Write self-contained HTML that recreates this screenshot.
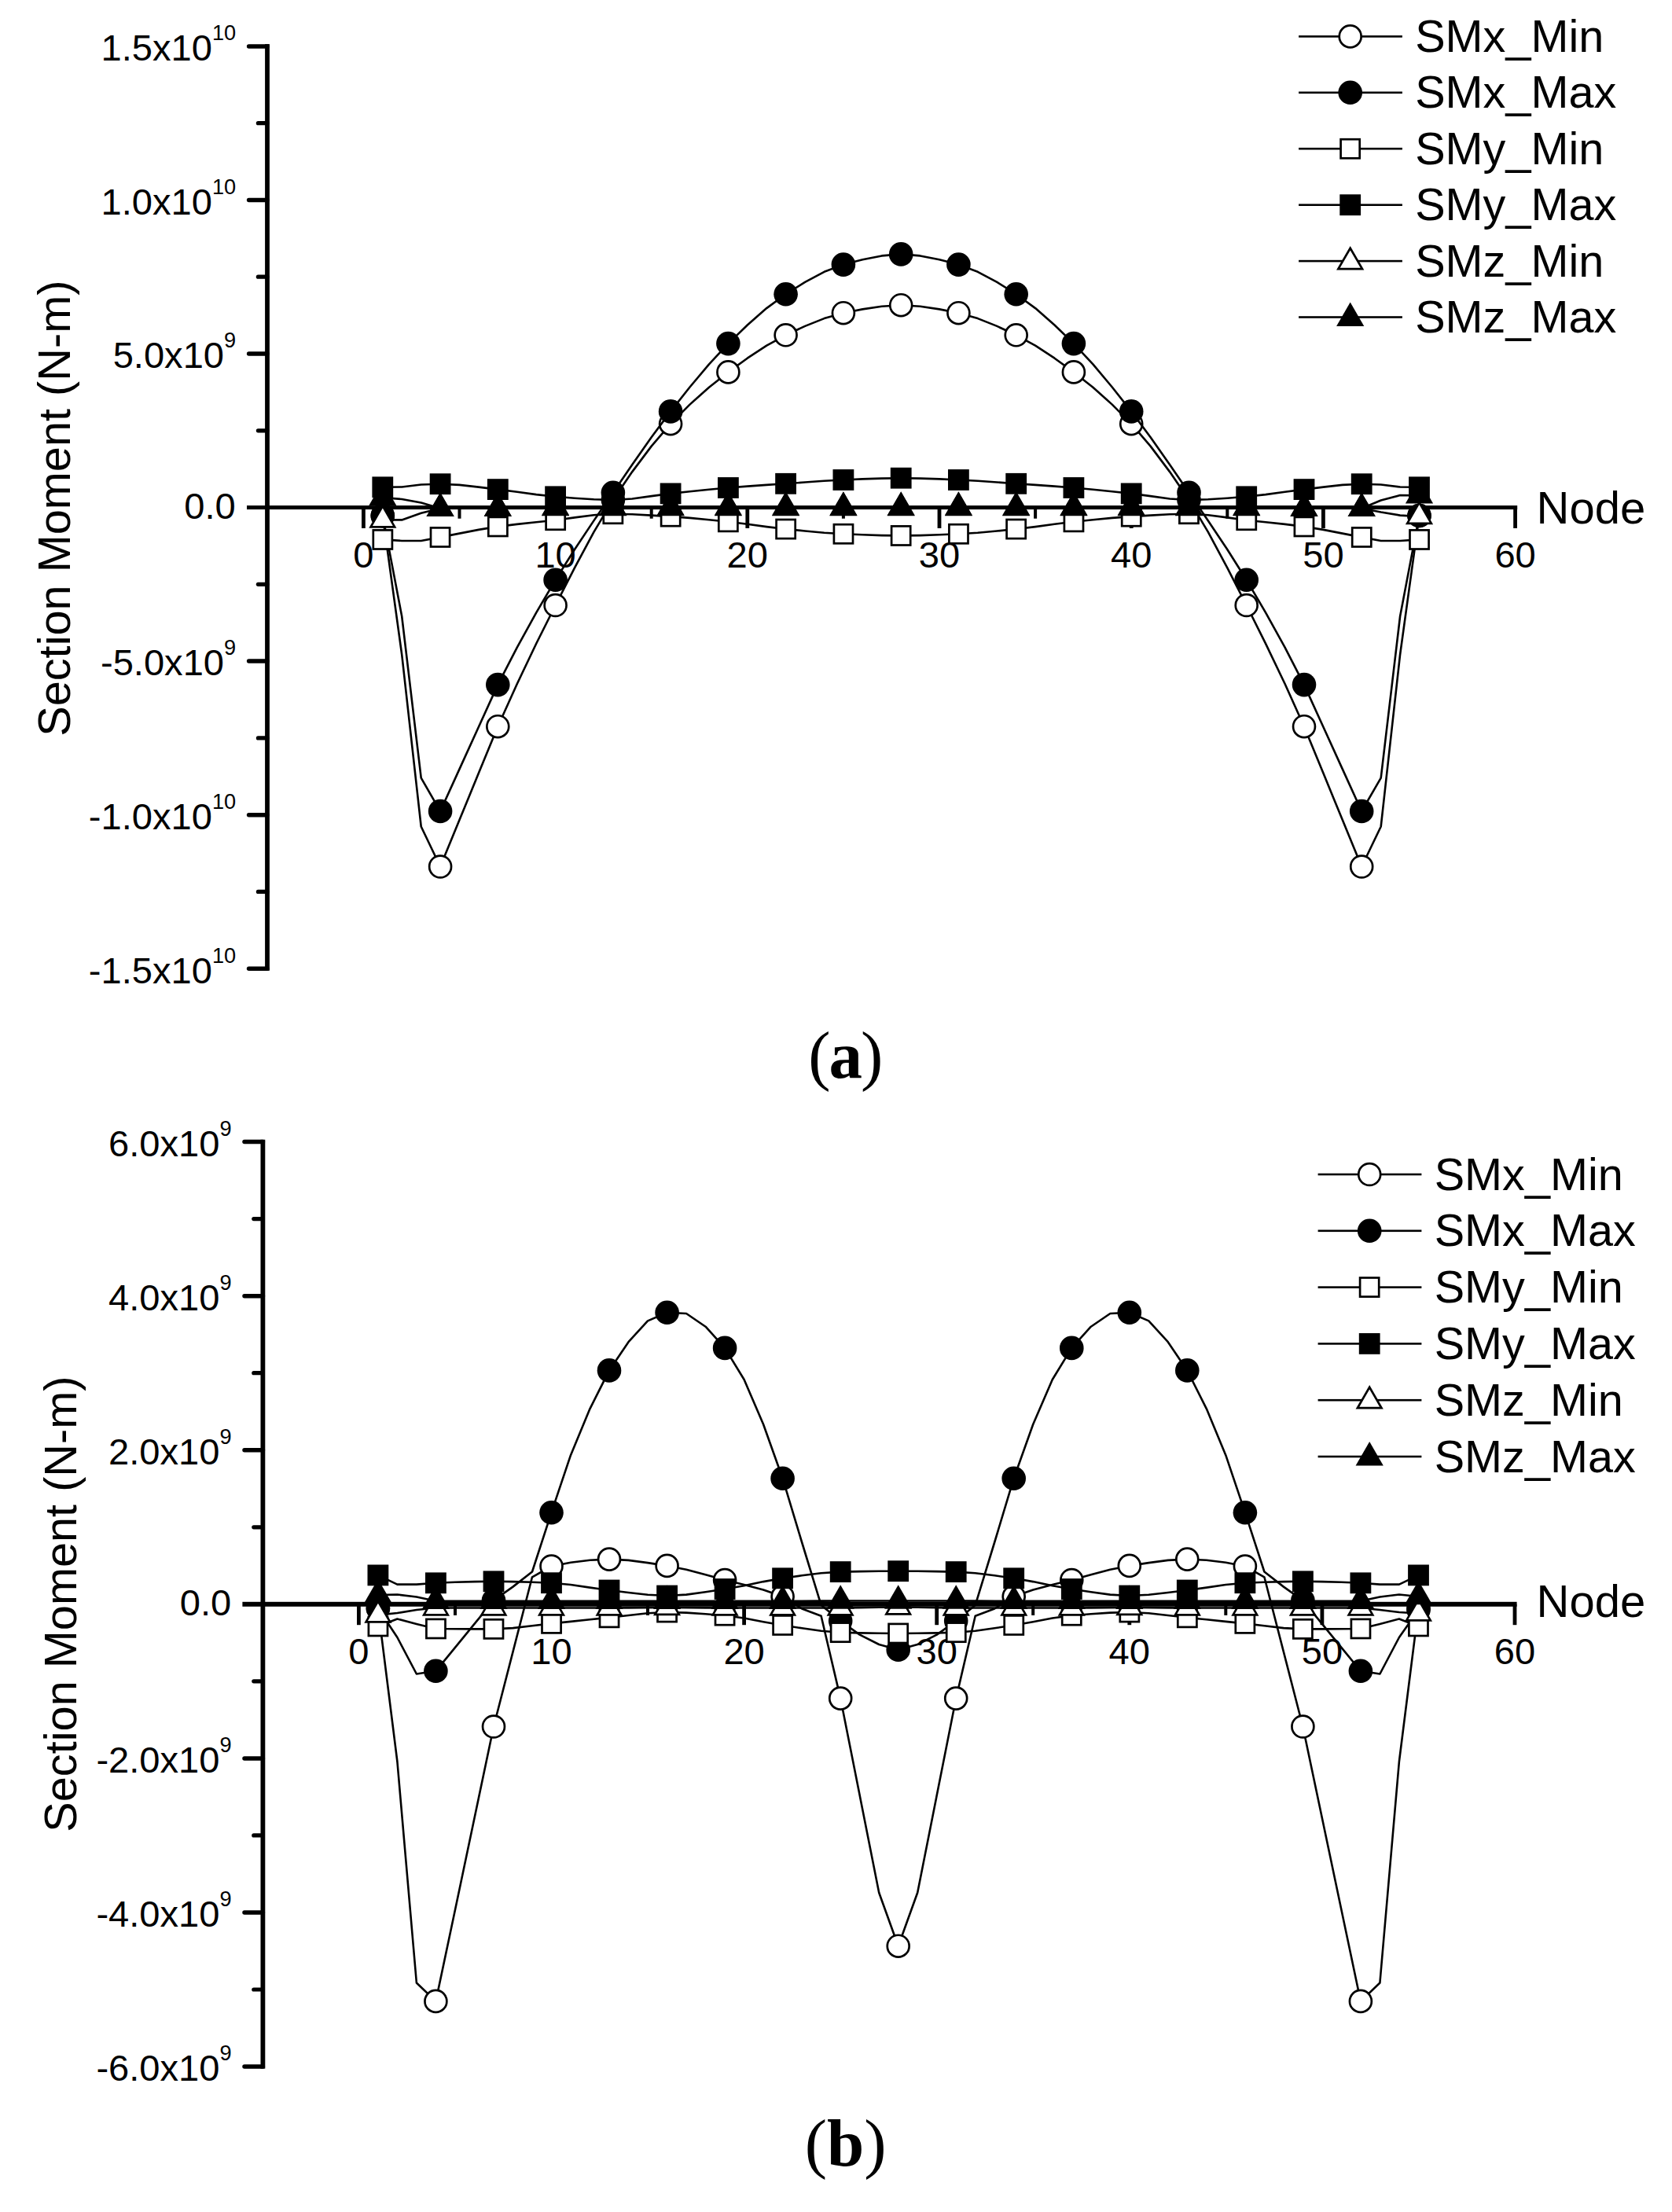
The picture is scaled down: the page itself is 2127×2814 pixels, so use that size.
<!DOCTYPE html>
<html lang="en"><head><meta charset="utf-8"><title>Section Moment</title>
<style>
html,body{margin:0;padding:0;background:#fff;}
body{width:2127px;height:2814px;overflow:hidden;}
svg{display:block;}
</style></head><body>
<svg width="2127" height="2814" viewBox="0 0 2127 2814" font-family='&quot;Liberation Sans&quot;, sans-serif' fill="#000">
<g id="chart-a"><rect x="337.1" y="56.1" width="5.8" height="1178.7"/>
<line x1="316.6" y1="58.9" x2="340" y2="58.9" stroke="#000" stroke-width="5.5" stroke-linecap="round"/>
<line x1="328.4" y1="156.7" x2="340" y2="156.7" stroke="#000" stroke-width="5.2" stroke-linecap="round"/>
<line x1="316.6" y1="254.5" x2="340" y2="254.5" stroke="#000" stroke-width="5.5" stroke-linecap="round"/>
<line x1="328.4" y1="352.2" x2="340" y2="352.2" stroke="#000" stroke-width="5.2" stroke-linecap="round"/>
<line x1="316.6" y1="450" x2="340" y2="450" stroke="#000" stroke-width="5.5" stroke-linecap="round"/>
<line x1="328.4" y1="547.8" x2="340" y2="547.8" stroke="#000" stroke-width="5.2" stroke-linecap="round"/>
<line x1="328.4" y1="743.3" x2="340" y2="743.3" stroke="#000" stroke-width="5.2" stroke-linecap="round"/>
<line x1="316.6" y1="841.1" x2="340" y2="841.1" stroke="#000" stroke-width="5.5" stroke-linecap="round"/>
<line x1="328.4" y1="938.9" x2="340" y2="938.9" stroke="#000" stroke-width="5.2" stroke-linecap="round"/>
<line x1="316.6" y1="1036.7" x2="340" y2="1036.7" stroke="#000" stroke-width="5.5" stroke-linecap="round"/>
<line x1="328.4" y1="1134.4" x2="340" y2="1134.4" stroke="#000" stroke-width="5.2" stroke-linecap="round"/>
<line x1="316.6" y1="1232.2" x2="340" y2="1232.2" stroke="#000" stroke-width="5.5" stroke-linecap="round"/>
<rect x="314" y="643.1" width="1616.2" height="5"/>
<rect x="460" y="645.6" width="4.8" height="26.4"/>
<rect x="582.5" y="645.6" width="4" height="14.1"/>
<rect x="704.2" y="645.6" width="4.8" height="26.4"/>
<rect x="826.7" y="645.6" width="4" height="14.1"/>
<rect x="948.4" y="645.6" width="4.8" height="26.4"/>
<rect x="1070.9" y="645.6" width="4" height="14.1"/>
<rect x="1192.6" y="645.6" width="4.8" height="26.4"/>
<rect x="1315.1" y="645.6" width="4" height="14.1"/>
<rect x="1436.8" y="645.6" width="4.8" height="26.4"/>
<rect x="1559.3" y="645.6" width="4" height="14.1"/>
<rect x="1681" y="645.6" width="4.8" height="26.4"/>
<rect x="1803.5" y="645.6" width="4" height="14.1"/>
<rect x="1925.2" y="645.6" width="4.8" height="26.4"/>
<text x="462.4" y="722.2" font-size="47.1" text-anchor="middle">0</text>
<text x="706.6" y="722.2" font-size="47.1" text-anchor="middle">10</text>
<text x="950.8" y="722.2" font-size="47.1" text-anchor="middle">20</text>
<text x="1195" y="722.2" font-size="47.1" text-anchor="middle">30</text>
<text x="1439.2" y="722.2" font-size="47.1" text-anchor="middle">40</text>
<text x="1683.4" y="722.2" font-size="47.1" text-anchor="middle">50</text>
<text x="1927.6" y="722.2" font-size="47.1" text-anchor="middle">60</text>
<text x="300.2" y="77.2" font-size="47.1" text-anchor="end">1.5x10<tspan font-size="27.2" dy="-26">10</tspan></text>
<text x="300.2" y="272.8" font-size="47.1" text-anchor="end">1.0x10<tspan font-size="27.2" dy="-26">10</tspan></text>
<text x="300.2" y="468.3" font-size="47.1" text-anchor="end">5.0x10<tspan font-size="27.2" dy="-26">9</tspan></text>
<text x="299.8" y="659.8" font-size="47.1" text-anchor="end">0.0</text>
<text x="300.2" y="859.4" font-size="47.1" text-anchor="end">-5.0x10<tspan font-size="27.2" dy="-26">9</tspan></text>
<text x="300.2" y="1055" font-size="47.1" text-anchor="end">-1.0x10<tspan font-size="27.2" dy="-26">10</tspan></text>
<text x="300.2" y="1250.5" font-size="47.1" text-anchor="end">-1.5x10<tspan font-size="27.2" dy="-26">10</tspan></text>
<text x="1954.5" y="666.3" font-size="58">Node</text>
<text transform="translate(89.4,646.7) rotate(-90)" font-size="57.7" text-anchor="middle">Section Moment (N-m)</text>
<polyline points="486.8,656 511.2,832.7 535.7,1051.5 560.1,1102.5 584.5,1043.1 608.9,983.6 633.3,924.2 657.8,870 682.2,818.8 706.6,770 731,722.3 755.4,676.8 779.9,636 804.3,600.1 828.7,567.6 853.1,539.2 877.5,514.6 902,492.8 926.4,473.4 950.8,455.7 975.2,439.7 999.6,426.3 1024.1,414.9 1048.5,405.1 1072.9,398.2 1097.3,393.4 1121.7,389.7 1146.2,388.2 1170.6,389.7 1195,393.4 1219.4,398.2 1243.8,405.1 1268.3,414.9 1292.7,426.3 1317.1,439.7 1341.5,455.7 1365.9,473.4 1390.4,492.8 1414.8,514.6 1439.2,539.2 1463.6,567.6 1488,600.1 1512.5,636 1536.9,676.8 1561.3,722.3 1585.7,770 1610.1,818.8 1634.6,870 1659,924.2 1683.4,983.6 1707.8,1043.1 1732.2,1102.5 1756.7,1051.5 1781.1,832.7 1805.5,656" fill="none" stroke="#000" stroke-width="2.6" stroke-linejoin="round"/>
<circle cx="486.8" cy="656" r="13.95" fill="#fff" stroke="#000" stroke-width="2.7"/>
<circle cx="560.1" cy="1102.5" r="13.95" fill="#fff" stroke="#000" stroke-width="2.7"/>
<circle cx="633.3" cy="924.2" r="13.95" fill="#fff" stroke="#000" stroke-width="2.7"/>
<circle cx="706.6" cy="770" r="13.95" fill="#fff" stroke="#000" stroke-width="2.7"/>
<circle cx="779.9" cy="636" r="13.95" fill="#fff" stroke="#000" stroke-width="2.7"/>
<circle cx="853.1" cy="539.2" r="13.95" fill="#fff" stroke="#000" stroke-width="2.7"/>
<circle cx="926.4" cy="473.4" r="13.95" fill="#fff" stroke="#000" stroke-width="2.7"/>
<circle cx="999.6" cy="426.3" r="13.95" fill="#fff" stroke="#000" stroke-width="2.7"/>
<circle cx="1072.9" cy="398.2" r="13.95" fill="#fff" stroke="#000" stroke-width="2.7"/>
<circle cx="1146.2" cy="388.2" r="13.95" fill="#fff" stroke="#000" stroke-width="2.7"/>
<circle cx="1219.4" cy="398.2" r="13.95" fill="#fff" stroke="#000" stroke-width="2.7"/>
<circle cx="1292.7" cy="426.3" r="13.95" fill="#fff" stroke="#000" stroke-width="2.7"/>
<circle cx="1365.9" cy="473.4" r="13.95" fill="#fff" stroke="#000" stroke-width="2.7"/>
<circle cx="1439.2" cy="539.2" r="13.95" fill="#fff" stroke="#000" stroke-width="2.7"/>
<circle cx="1512.5" cy="636" r="13.95" fill="#fff" stroke="#000" stroke-width="2.7"/>
<circle cx="1585.7" cy="770" r="13.95" fill="#fff" stroke="#000" stroke-width="2.7"/>
<circle cx="1659" cy="924.2" r="13.95" fill="#fff" stroke="#000" stroke-width="2.7"/>
<circle cx="1732.2" cy="1102.5" r="13.95" fill="#fff" stroke="#000" stroke-width="2.7"/>
<circle cx="1805.5" cy="656" r="13.95" fill="#fff" stroke="#000" stroke-width="2.7"/>
<polyline points="486.8,656 511.2,784 535.7,989.7 560.1,1032 584.5,978.4 608.9,924.7 633.3,871.1 657.8,823.6 682.2,779.3 706.6,737.8 731,699 755.4,662.4 779.9,626.7 804.3,591 828.7,556.2 853.1,523.4 877.5,492.5 902,463.3 926.4,437.1 950.8,413.5 975.2,392.1 999.6,374.2 1024.1,358.9 1048.5,345.8 1072.9,336.6 1097.3,330.3 1121.7,325.4 1146.2,323.4 1170.6,325.4 1195,330.3 1219.4,336.6 1243.8,345.8 1268.3,358.9 1292.7,374.2 1317.1,392.1 1341.5,413.5 1365.9,437.1 1390.4,463.3 1414.8,492.5 1439.2,523.4 1463.6,556.2 1488,591 1512.5,626.7 1536.9,662.4 1561.3,699 1585.7,737.8 1610.1,779.3 1634.6,823.6 1659,871.1 1683.4,924.7 1707.8,978.4 1732.2,1032 1756.7,989.7 1781.1,784 1805.5,656" fill="none" stroke="#000" stroke-width="2.6" stroke-linejoin="round"/>
<circle cx="486.8" cy="656" r="15.3"/>
<circle cx="560.1" cy="1032" r="15.3"/>
<circle cx="633.3" cy="871.1" r="15.3"/>
<circle cx="706.6" cy="737.8" r="15.3"/>
<circle cx="779.9" cy="626.7" r="15.3"/>
<circle cx="853.1" cy="523.4" r="15.3"/>
<circle cx="926.4" cy="437.1" r="15.3"/>
<circle cx="999.6" cy="374.2" r="15.3"/>
<circle cx="1072.9" cy="336.6" r="15.3"/>
<circle cx="1146.2" cy="323.4" r="15.3"/>
<circle cx="1219.4" cy="336.6" r="15.3"/>
<circle cx="1292.7" cy="374.2" r="15.3"/>
<circle cx="1365.9" cy="437.1" r="15.3"/>
<circle cx="1439.2" cy="523.4" r="15.3"/>
<circle cx="1512.5" cy="626.7" r="15.3"/>
<circle cx="1585.7" cy="737.8" r="15.3"/>
<circle cx="1659" cy="871.1" r="15.3"/>
<circle cx="1732.2" cy="1032" r="15.3"/>
<circle cx="1805.5" cy="656" r="15.3"/>
<polyline points="486.8,686.4 511.2,688 535.7,688 560.1,683.4 584.5,678.6 608.9,673.9 633.3,669.9 657.8,666.9 682.2,664.3 706.6,661.7 731,658.4 755.4,655.2 779.9,653.7 804.3,654.2 828.7,655.6 853.1,657.1 877.5,658.9 902,661.2 926.4,663.8 950.8,666.8 975.2,670.1 999.6,673 1024.1,675.5 1048.5,677.8 1072.9,679.3 1097.3,680.3 1121.7,681.1 1146.2,681.4 1170.6,681.1 1195,680.3 1219.4,679.3 1243.8,677.8 1268.3,675.5 1292.7,673 1317.1,670.1 1341.5,666.8 1365.9,663.8 1390.4,661.2 1414.8,658.9 1439.2,657.1 1463.6,655.6 1488,654.2 1512.5,653.7 1536.9,655.2 1561.3,658.4 1585.7,661.7 1610.1,664.3 1634.6,666.9 1659,669.9 1683.4,673.9 1707.8,678.6 1732.2,683.4 1756.7,688 1781.1,688 1805.5,686.4" fill="none" stroke="#000" stroke-width="2.6" stroke-linejoin="round"/>
<rect x="474.8" y="674.4" width="24.1" height="24.1" fill="#fff" stroke="#000" stroke-width="2.7"/>
<rect x="548" y="671.4" width="24.1" height="24.1" fill="#fff" stroke="#000" stroke-width="2.7"/>
<rect x="621.3" y="657.9" width="24.1" height="24.1" fill="#fff" stroke="#000" stroke-width="2.7"/>
<rect x="694.6" y="649.7" width="24.1" height="24.1" fill="#fff" stroke="#000" stroke-width="2.7"/>
<rect x="767.8" y="641.7" width="24.1" height="24.1" fill="#fff" stroke="#000" stroke-width="2.7"/>
<rect x="841.1" y="645.1" width="24.1" height="24.1" fill="#fff" stroke="#000" stroke-width="2.7"/>
<rect x="914.3" y="651.8" width="24.1" height="24.1" fill="#fff" stroke="#000" stroke-width="2.7"/>
<rect x="987.6" y="661" width="24.1" height="24.1" fill="#fff" stroke="#000" stroke-width="2.7"/>
<rect x="1060.9" y="667.2" width="24.1" height="24.1" fill="#fff" stroke="#000" stroke-width="2.7"/>
<rect x="1134.1" y="669.4" width="24.1" height="24.1" fill="#fff" stroke="#000" stroke-width="2.7"/>
<rect x="1207.4" y="667.2" width="24.1" height="24.1" fill="#fff" stroke="#000" stroke-width="2.7"/>
<rect x="1280.6" y="661" width="24.1" height="24.1" fill="#fff" stroke="#000" stroke-width="2.7"/>
<rect x="1353.9" y="651.8" width="24.1" height="24.1" fill="#fff" stroke="#000" stroke-width="2.7"/>
<rect x="1427.2" y="645.1" width="24.1" height="24.1" fill="#fff" stroke="#000" stroke-width="2.7"/>
<rect x="1500.4" y="641.7" width="24.1" height="24.1" fill="#fff" stroke="#000" stroke-width="2.7"/>
<rect x="1573.7" y="649.7" width="24.1" height="24.1" fill="#fff" stroke="#000" stroke-width="2.7"/>
<rect x="1646.9" y="657.9" width="24.1" height="24.1" fill="#fff" stroke="#000" stroke-width="2.7"/>
<rect x="1720.2" y="671.4" width="24.1" height="24.1" fill="#fff" stroke="#000" stroke-width="2.7"/>
<rect x="1793.5" y="674.4" width="24.1" height="24.1" fill="#fff" stroke="#000" stroke-width="2.7"/>
<polyline points="486.8,619.8 511.2,619.5 535.7,616.5 560.1,615.7 584.5,616.9 608.9,619.6 633.3,622.6 657.8,625.7 682.2,629.1 706.6,631.8 731,633.7 755.4,635.3 779.9,636 804.3,634.5 828.7,631.1 853.1,627.9 877.5,625.3 902,622.8 926.4,620.5 950.8,618.6 975.2,616.9 999.6,615.3 1024.1,613.5 1048.5,611.8 1072.9,610.5 1097.3,609.4 1121.7,608.6 1146.2,608.2 1170.6,608.6 1195,609.4 1219.4,610.5 1243.8,611.8 1268.3,613.5 1292.7,615.3 1317.1,616.9 1341.5,618.6 1365.9,620.5 1390.4,622.8 1414.8,625.3 1439.2,627.9 1463.6,631.1 1488,634.5 1512.5,636 1536.9,635.3 1561.3,633.7 1585.7,631.8 1610.1,629.1 1634.6,625.7 1659,622.6 1683.4,619.6 1707.8,616.9 1732.2,615.7 1756.7,616.5 1781.1,619.5 1805.5,619.8" fill="none" stroke="#000" stroke-width="2.6" stroke-linejoin="round"/>
<rect x="473.4" y="606.4" width="26.8" height="26.8"/>
<rect x="546.7" y="602.3" width="26.8" height="26.8"/>
<rect x="619.9" y="609.2" width="26.8" height="26.8"/>
<rect x="693.2" y="618.4" width="26.8" height="26.8"/>
<rect x="766.5" y="622.6" width="26.8" height="26.8"/>
<rect x="839.7" y="614.5" width="26.8" height="26.8"/>
<rect x="913" y="607.1" width="26.8" height="26.8"/>
<rect x="986.2" y="601.9" width="26.8" height="26.8"/>
<rect x="1059.5" y="597.1" width="26.8" height="26.8"/>
<rect x="1132.8" y="594.8" width="26.8" height="26.8"/>
<rect x="1206" y="597.1" width="26.8" height="26.8"/>
<rect x="1279.3" y="601.9" width="26.8" height="26.8"/>
<rect x="1352.5" y="607.1" width="26.8" height="26.8"/>
<rect x="1425.8" y="614.5" width="26.8" height="26.8"/>
<rect x="1499.1" y="622.6" width="26.8" height="26.8"/>
<rect x="1572.3" y="618.4" width="26.8" height="26.8"/>
<rect x="1645.6" y="609.2" width="26.8" height="26.8"/>
<rect x="1718.8" y="602.3" width="26.8" height="26.8"/>
<rect x="1792.1" y="606.4" width="26.8" height="26.8"/>
<polyline points="486.8,661.5 511.2,661.4 535.7,652.8 560.1,646.8 584.5,646.6 608.9,646.6 633.3,646.5 657.8,646.3 682.2,646.1 706.6,646 731,646 755.4,646 779.9,646 804.3,646 828.7,646 853.1,646 877.5,646 902,646 926.4,646 950.8,646 975.2,646 999.6,646 1024.1,646 1048.5,646 1072.9,646 1097.3,646 1121.7,646 1146.2,646 1170.6,646 1195,646 1219.4,646 1243.8,646 1268.3,646 1292.7,646 1317.1,646 1341.5,646 1365.9,646 1390.4,646 1414.8,646 1439.2,646 1463.6,646 1488,646 1512.5,646 1536.9,646 1561.3,646 1585.7,646 1610.1,646.1 1634.6,646.3 1659,646.5 1683.4,646.6 1707.8,646.6 1732.2,646.8 1756.7,651.5 1781.1,655.6 1805.5,657" fill="none" stroke="#000" stroke-width="2.6" stroke-linejoin="round"/>
<polygon points="486.8,643.9 471.6,670.3 502.1,670.3" fill="#fff" stroke="#000" stroke-width="2.7" stroke-linejoin="miter"/>
<polygon points="560.1,629.2 544.8,655.6 575.3,655.6" fill="#fff" stroke="#000" stroke-width="2.7" stroke-linejoin="miter"/>
<polygon points="633.3,628.9 618.1,655.3 648.6,655.3" fill="#fff" stroke="#000" stroke-width="2.7" stroke-linejoin="miter"/>
<polygon points="706.6,628.4 691.3,654.8 721.9,654.8" fill="#fff" stroke="#000" stroke-width="2.7" stroke-linejoin="miter"/>
<polygon points="779.9,628.4 764.6,654.8 795.1,654.8" fill="#fff" stroke="#000" stroke-width="2.7" stroke-linejoin="miter"/>
<polygon points="853.1,628.4 837.9,654.8 868.4,654.8" fill="#fff" stroke="#000" stroke-width="2.7" stroke-linejoin="miter"/>
<polygon points="926.4,628.4 911.1,654.8 941.6,654.8" fill="#fff" stroke="#000" stroke-width="2.7" stroke-linejoin="miter"/>
<polygon points="999.6,628.4 984.4,654.8 1014.9,654.8" fill="#fff" stroke="#000" stroke-width="2.7" stroke-linejoin="miter"/>
<polygon points="1072.9,628.4 1057.6,654.8 1088.2,654.8" fill="#fff" stroke="#000" stroke-width="2.7" stroke-linejoin="miter"/>
<polygon points="1146.2,628.4 1130.9,654.8 1161.4,654.8" fill="#fff" stroke="#000" stroke-width="2.7" stroke-linejoin="miter"/>
<polygon points="1219.4,628.4 1204.2,654.8 1234.7,654.8" fill="#fff" stroke="#000" stroke-width="2.7" stroke-linejoin="miter"/>
<polygon points="1292.7,628.4 1277.4,654.8 1307.9,654.8" fill="#fff" stroke="#000" stroke-width="2.7" stroke-linejoin="miter"/>
<polygon points="1365.9,628.4 1350.7,654.8 1381.2,654.8" fill="#fff" stroke="#000" stroke-width="2.7" stroke-linejoin="miter"/>
<polygon points="1439.2,628.4 1423.9,654.8 1454.5,654.8" fill="#fff" stroke="#000" stroke-width="2.7" stroke-linejoin="miter"/>
<polygon points="1512.5,628.4 1497.2,654.8 1527.7,654.8" fill="#fff" stroke="#000" stroke-width="2.7" stroke-linejoin="miter"/>
<polygon points="1585.7,628.4 1570.5,654.8 1601,654.8" fill="#fff" stroke="#000" stroke-width="2.7" stroke-linejoin="miter"/>
<polygon points="1659,628.9 1643.7,655.3 1674.2,655.3" fill="#fff" stroke="#000" stroke-width="2.7" stroke-linejoin="miter"/>
<polygon points="1732.2,629.2 1717,655.6 1747.5,655.6" fill="#fff" stroke="#000" stroke-width="2.7" stroke-linejoin="miter"/>
<polygon points="1805.5,639.4 1790.2,665.8 1820.8,665.8" fill="#fff" stroke="#000" stroke-width="2.7" stroke-linejoin="miter"/>
<polyline points="486.8,633.1 511.2,635 535.7,639.5 560.1,646.8 584.5,646.8 608.9,646.8 633.3,646.8 657.8,646.5 682.2,645.8 706.6,645.5 731,645.5 755.4,645.5 779.9,645.5 804.3,645.5 828.7,645.5 853.1,645.5 877.5,645.5 902,645.5 926.4,645.5 950.8,645.5 975.2,645.5 999.6,645.5 1024.1,645.5 1048.5,645.5 1072.9,645.5 1097.3,645.5 1121.7,645.5 1146.2,645.5 1170.6,645.5 1195,645.5 1219.4,645.5 1243.8,645.5 1268.3,645.5 1292.7,645.5 1317.1,645.5 1341.5,645.5 1365.9,645.5 1390.4,645.5 1414.8,645.5 1439.2,645.5 1463.6,645.5 1488,645.5 1512.5,645.5 1536.9,645.5 1561.3,645.5 1585.7,645.5 1610.1,645.8 1634.6,646.5 1659,646.8 1683.4,646.8 1707.8,646.8 1732.2,646.8 1756.7,636.5 1781.1,630 1805.5,630.3" fill="none" stroke="#000" stroke-width="2.6" stroke-linejoin="round"/>
<polygon points="486.8,612.8 469.2,643.3 504.4,643.3"/>
<polygon points="560.1,626.5 542.5,657 577.7,657"/>
<polygon points="633.3,626.5 615.7,657 650.9,657"/>
<polygon points="706.6,625.2 689,655.7 724.2,655.7"/>
<polygon points="779.9,625.2 762.3,655.7 797.5,655.7"/>
<polygon points="853.1,625.2 835.5,655.7 870.7,655.7"/>
<polygon points="926.4,625.2 908.8,655.7 944,655.7"/>
<polygon points="999.6,625.2 982,655.7 1017.2,655.7"/>
<polygon points="1072.9,625.2 1055.3,655.7 1090.5,655.7"/>
<polygon points="1146.2,625.2 1128.6,655.7 1163.8,655.7"/>
<polygon points="1219.4,625.2 1201.8,655.7 1237,655.7"/>
<polygon points="1292.7,625.2 1275.1,655.7 1310.3,655.7"/>
<polygon points="1365.9,625.2 1348.3,655.7 1383.5,655.7"/>
<polygon points="1439.2,625.2 1421.6,655.7 1456.8,655.7"/>
<polygon points="1512.5,625.2 1494.9,655.7 1530.1,655.7"/>
<polygon points="1585.7,625.2 1568.1,655.7 1603.3,655.7"/>
<polygon points="1659,626.5 1641.4,657 1676.6,657"/>
<polygon points="1732.2,626.5 1714.6,657 1749.8,657"/>
<polygon points="1805.5,610 1787.9,640.5 1823.1,640.5"/>
<rect x="1652.1" y="45.1" width="131.8" height="2.6"/>
<circle cx="1717.7" cy="46.4" r="13.95" fill="#fff" stroke="#000" stroke-width="2.7"/>
<text x="1800.2" y="66" font-size="57.6">SMx_Min</text>
<rect x="1652.1" y="116.5" width="131.8" height="2.6"/>
<circle cx="1717.7" cy="117.8" r="15.3"/>
<text x="1800.2" y="137.4" font-size="57.6">SMx_Max</text>
<rect x="1652.1" y="187.9" width="131.8" height="2.6"/>
<rect x="1705.6" y="177.2" width="24.1" height="24.1" fill="#fff" stroke="#000" stroke-width="2.7"/>
<text x="1800.2" y="208.8" font-size="57.6">SMy_Min</text>
<rect x="1652.1" y="259.4" width="131.8" height="2.6"/>
<rect x="1704.3" y="247.3" width="26.8" height="26.8"/>
<text x="1800.2" y="280.3" font-size="57.6">SMy_Max</text>
<rect x="1652.1" y="330.8" width="131.8" height="2.6"/>
<polygon points="1717.7,315.7 1702.4,342.1 1733,342.1" fill="#fff" stroke="#000" stroke-width="2.7" stroke-linejoin="miter"/>
<text x="1800.2" y="351.7" font-size="57.6">SMz_Min</text>
<rect x="1652.1" y="402.2" width="131.8" height="2.6"/>
<polygon points="1717.7,384.4 1700.1,414.9 1735.3,414.9"/>
<text x="1800.2" y="423.1" font-size="57.6">SMz_Max</text>
<text x="1074.8" y="1371" font-size="85" letter-spacing="-2" text-anchor="middle" font-family='&quot;Liberation Serif&quot;, serif'>(<tspan font-weight="bold">a</tspan>)</text></g>
<g id="chart-b"><rect x="331.5" y="1449.8" width="5.8" height="1181.8"/>
<line x1="311" y1="1452.6" x2="334.4" y2="1452.6" stroke="#000" stroke-width="5.5" stroke-linecap="round"/>
<line x1="322.8" y1="1550.6" x2="334.4" y2="1550.6" stroke="#000" stroke-width="5.2" stroke-linecap="round"/>
<line x1="311" y1="1648.7" x2="334.4" y2="1648.7" stroke="#000" stroke-width="5.5" stroke-linecap="round"/>
<line x1="322.8" y1="1746.7" x2="334.4" y2="1746.7" stroke="#000" stroke-width="5.2" stroke-linecap="round"/>
<line x1="311" y1="1844.7" x2="334.4" y2="1844.7" stroke="#000" stroke-width="5.5" stroke-linecap="round"/>
<line x1="322.8" y1="1942.8" x2="334.4" y2="1942.8" stroke="#000" stroke-width="5.2" stroke-linecap="round"/>
<line x1="322.8" y1="2138.8" x2="334.4" y2="2138.8" stroke="#000" stroke-width="5.2" stroke-linecap="round"/>
<line x1="311" y1="2236.9" x2="334.4" y2="2236.9" stroke="#000" stroke-width="5.5" stroke-linecap="round"/>
<line x1="322.8" y1="2334.9" x2="334.4" y2="2334.9" stroke="#000" stroke-width="5.2" stroke-linecap="round"/>
<line x1="311" y1="2432.9" x2="334.4" y2="2432.9" stroke="#000" stroke-width="5.5" stroke-linecap="round"/>
<line x1="322.8" y1="2531" x2="334.4" y2="2531" stroke="#000" stroke-width="5.2" stroke-linecap="round"/>
<line x1="311" y1="2629" x2="334.4" y2="2629" stroke="#000" stroke-width="5.5" stroke-linecap="round"/>
<rect x="308.4" y="2037.8" width="1621.2" height="6"/>
<rect x="454" y="2040.8" width="4.8" height="26.4"/>
<rect x="577" y="2040.8" width="4" height="14.1"/>
<rect x="699.1" y="2040.8" width="4.8" height="26.4"/>
<rect x="822" y="2040.8" width="4" height="14.1"/>
<rect x="944.2" y="2040.8" width="4.8" height="26.4"/>
<rect x="1067.2" y="2040.8" width="4" height="14.1"/>
<rect x="1189.3" y="2040.8" width="4.8" height="26.4"/>
<rect x="1312.2" y="2040.8" width="4" height="14.1"/>
<rect x="1434.4" y="2040.8" width="4.8" height="26.4"/>
<rect x="1557.3" y="2040.8" width="4" height="14.1"/>
<rect x="1679.5" y="2040.8" width="4.8" height="26.4"/>
<rect x="1802.5" y="2040.8" width="4" height="14.1"/>
<rect x="1924.6" y="2040.8" width="4.8" height="26.4"/>
<text x="456.4" y="2117.4" font-size="47.1" text-anchor="middle">0</text>
<text x="701.5" y="2117.4" font-size="47.1" text-anchor="middle">10</text>
<text x="946.6" y="2117.4" font-size="47.1" text-anchor="middle">20</text>
<text x="1191.7" y="2117.4" font-size="47.1" text-anchor="middle">30</text>
<text x="1436.8" y="2117.4" font-size="47.1" text-anchor="middle">40</text>
<text x="1681.9" y="2117.4" font-size="47.1" text-anchor="middle">50</text>
<text x="1927" y="2117.4" font-size="47.1" text-anchor="middle">60</text>
<text x="294.6" y="1470.9" font-size="47.1" text-anchor="end">6.0x10<tspan font-size="27.2" dy="-26">9</tspan></text>
<text x="294.6" y="1667" font-size="47.1" text-anchor="end">4.0x10<tspan font-size="27.2" dy="-26">9</tspan></text>
<text x="294.6" y="1863" font-size="47.1" text-anchor="end">2.0x10<tspan font-size="27.2" dy="-26">9</tspan></text>
<text x="294.2" y="2055" font-size="47.1" text-anchor="end">0.0</text>
<text x="294.6" y="2255.2" font-size="47.1" text-anchor="end">-2.0x10<tspan font-size="27.2" dy="-26">9</tspan></text>
<text x="294.6" y="2451.2" font-size="47.1" text-anchor="end">-4.0x10<tspan font-size="27.2" dy="-26">9</tspan></text>
<text x="294.6" y="2647.3" font-size="47.1" text-anchor="end">-6.0x10<tspan font-size="27.2" dy="-26">9</tspan></text>
<text x="1954.5" y="2056.7" font-size="58">Node</text>
<text transform="translate(97,2040.6) rotate(-90)" font-size="57.7" text-anchor="middle">Section Moment (N-m)</text>
<polyline points="480.9,2046 505.4,2241 529.9,2522.5 554.4,2545.9 579,2429.4 603.5,2313 628,2196.5 652.5,2101.4 677,2006.3 701.5,1992.5 726,1987.8 750.5,1984.7 775,1983.6 799.5,1984.9 824,1988.1 848.6,1991.9 873.1,1996.8 897.6,2003.3 922.1,2010 946.6,2016 971.1,2022.4 995.6,2031 1020.1,2046.5 1044.6,2055.7 1069.2,2160.6 1093.7,2284.1 1118.2,2407.7 1142.7,2475.7 1167.2,2407.7 1191.7,2284.1 1216.2,2160.6 1240.7,2055.7 1265.2,2046.5 1289.7,2031 1314.2,2022.4 1338.8,2016 1363.3,2010 1387.8,2003.3 1412.3,1996.8 1436.8,1991.9 1461.3,1988.1 1485.8,1984.9 1510.3,1983.6 1534.8,1984.7 1559.3,1987.8 1583.9,1992.5 1608.4,2006.3 1632.9,2101.4 1657.4,2196.5 1681.9,2313 1706.4,2429.4 1730.9,2545.9 1755.4,2522.5 1779.9,2241 1804.5,2046" fill="none" stroke="#000" stroke-width="2.6" stroke-linejoin="round"/>
<circle cx="480.9" cy="2046" r="13.95" fill="#fff" stroke="#000" stroke-width="2.7"/>
<circle cx="554.4" cy="2545.9" r="13.95" fill="#fff" stroke="#000" stroke-width="2.7"/>
<circle cx="628" cy="2196.5" r="13.95" fill="#fff" stroke="#000" stroke-width="2.7"/>
<circle cx="701.5" cy="1992.5" r="13.95" fill="#fff" stroke="#000" stroke-width="2.7"/>
<circle cx="775" cy="1983.6" r="13.95" fill="#fff" stroke="#000" stroke-width="2.7"/>
<circle cx="848.6" cy="1991.9" r="13.95" fill="#fff" stroke="#000" stroke-width="2.7"/>
<circle cx="922.1" cy="2010" r="13.95" fill="#fff" stroke="#000" stroke-width="2.7"/>
<circle cx="995.6" cy="2031" r="13.95" fill="#fff" stroke="#000" stroke-width="2.7"/>
<circle cx="1069.2" cy="2160.6" r="13.95" fill="#fff" stroke="#000" stroke-width="2.7"/>
<circle cx="1142.7" cy="2475.7" r="13.95" fill="#fff" stroke="#000" stroke-width="2.7"/>
<circle cx="1216.2" cy="2160.6" r="13.95" fill="#fff" stroke="#000" stroke-width="2.7"/>
<circle cx="1289.7" cy="2031" r="13.95" fill="#fff" stroke="#000" stroke-width="2.7"/>
<circle cx="1363.3" cy="2010" r="13.95" fill="#fff" stroke="#000" stroke-width="2.7"/>
<circle cx="1436.8" cy="1991.9" r="13.95" fill="#fff" stroke="#000" stroke-width="2.7"/>
<circle cx="1510.3" cy="1983.6" r="13.95" fill="#fff" stroke="#000" stroke-width="2.7"/>
<circle cx="1583.9" cy="1992.5" r="13.95" fill="#fff" stroke="#000" stroke-width="2.7"/>
<circle cx="1657.4" cy="2196.5" r="13.95" fill="#fff" stroke="#000" stroke-width="2.7"/>
<circle cx="1730.9" cy="2545.9" r="13.95" fill="#fff" stroke="#000" stroke-width="2.7"/>
<circle cx="1804.5" cy="2046" r="13.95" fill="#fff" stroke="#000" stroke-width="2.7"/>
<polyline points="480.9,2046 505.4,2083 529.9,2129.5 554.4,2125.8 579,2095.9 603.5,2065.9 628,2036 652.5,2018.6 677,1999.5 701.5,1924.2 726,1851.2 750.5,1792.1 775,1743.4 799.5,1707.2 824,1680.4 848.6,1669.7 873.1,1671 897.6,1687.7 922.1,1714.9 946.6,1755 971.1,1812 995.6,1880.7 1020.1,1962 1044.6,2042 1069.2,2062 1093.7,2079.6 1118.2,2092 1142.7,2098.8 1167.2,2092 1191.7,2079.6 1216.2,2062 1240.7,2042 1265.2,1962 1289.7,1880.7 1314.2,1812 1338.8,1755 1363.3,1714.9 1387.8,1687.7 1412.3,1671 1436.8,1669.7 1461.3,1680.4 1485.8,1707.2 1510.3,1743.4 1534.8,1792.1 1559.3,1851.2 1583.9,1924.2 1608.4,1999.5 1632.9,2018.6 1657.4,2036 1681.9,2065.9 1706.4,2095.9 1730.9,2125.8 1755.4,2129.5 1779.9,2083 1804.5,2048" fill="none" stroke="#000" stroke-width="2.6" stroke-linejoin="round"/>
<circle cx="480.9" cy="2046" r="15.3"/>
<circle cx="554.4" cy="2125.8" r="15.3"/>
<circle cx="628" cy="2036" r="15.3"/>
<circle cx="701.5" cy="1924.2" r="15.3"/>
<circle cx="775" cy="1743.4" r="15.3"/>
<circle cx="848.6" cy="1669.7" r="15.3"/>
<circle cx="922.1" cy="1714.9" r="15.3"/>
<circle cx="995.6" cy="1880.7" r="15.3"/>
<circle cx="1069.2" cy="2062" r="15.3"/>
<circle cx="1142.7" cy="2098.8" r="15.3"/>
<circle cx="1216.2" cy="2062" r="15.3"/>
<circle cx="1289.7" cy="1880.7" r="15.3"/>
<circle cx="1363.3" cy="1714.9" r="15.3"/>
<circle cx="1436.8" cy="1669.7" r="15.3"/>
<circle cx="1510.3" cy="1743.4" r="15.3"/>
<circle cx="1583.9" cy="1924.2" r="15.3"/>
<circle cx="1657.4" cy="2036" r="15.3"/>
<circle cx="1730.9" cy="2125.8" r="15.3"/>
<circle cx="1804.5" cy="2048" r="15.3"/>
<polyline points="480.9,2069 505.4,2059.5 529.9,2066 554.4,2072 579,2072.2 603.5,2072.4 628,2072.4 652.5,2071.1 677,2068.3 701.5,2065.4 726,2062.9 750.5,2060.3 775,2057.8 799.5,2055 824,2052.2 848.6,2051 873.1,2051.6 897.6,2053.2 922.1,2055.2 946.6,2058.5 971.1,2063.2 995.6,2067.5 1020.1,2071.3 1044.6,2074.8 1069.2,2076.7 1093.7,2077.4 1118.2,2077.8 1142.7,2078 1167.2,2077.8 1191.7,2077.4 1216.2,2076.7 1240.7,2074.8 1265.2,2071.3 1289.7,2067.5 1314.2,2063.2 1338.8,2058.5 1363.3,2055.2 1387.8,2053.2 1412.3,2051.6 1436.8,2051 1461.3,2052.2 1485.8,2055 1510.3,2057.8 1534.8,2060.3 1559.3,2062.9 1583.9,2065.4 1608.4,2068.3 1632.9,2071.1 1657.4,2072.4 1681.9,2072.4 1706.4,2072.2 1730.9,2072 1755.4,2066 1779.9,2059.5 1804.5,2069" fill="none" stroke="#000" stroke-width="2.6" stroke-linejoin="round"/>
<rect x="468.9" y="2056.9" width="24.1" height="24.1" fill="#fff" stroke="#000" stroke-width="2.7"/>
<rect x="542.4" y="2059.9" width="24.1" height="24.1" fill="#fff" stroke="#000" stroke-width="2.7"/>
<rect x="615.9" y="2060.3" width="24.1" height="24.1" fill="#fff" stroke="#000" stroke-width="2.7"/>
<rect x="689.5" y="2053.3" width="24.1" height="24.1" fill="#fff" stroke="#000" stroke-width="2.7"/>
<rect x="763" y="2045.8" width="24.1" height="24.1" fill="#fff" stroke="#000" stroke-width="2.7"/>
<rect x="836.5" y="2039" width="24.1" height="24.1" fill="#fff" stroke="#000" stroke-width="2.7"/>
<rect x="910" y="2043.1" width="24.1" height="24.1" fill="#fff" stroke="#000" stroke-width="2.7"/>
<rect x="983.6" y="2055.4" width="24.1" height="24.1" fill="#fff" stroke="#000" stroke-width="2.7"/>
<rect x="1057.1" y="2064.6" width="24.1" height="24.1" fill="#fff" stroke="#000" stroke-width="2.7"/>
<rect x="1130.6" y="2065.9" width="24.1" height="24.1" fill="#fff" stroke="#000" stroke-width="2.7"/>
<rect x="1204.2" y="2064.6" width="24.1" height="24.1" fill="#fff" stroke="#000" stroke-width="2.7"/>
<rect x="1277.7" y="2055.4" width="24.1" height="24.1" fill="#fff" stroke="#000" stroke-width="2.7"/>
<rect x="1351.2" y="2043.1" width="24.1" height="24.1" fill="#fff" stroke="#000" stroke-width="2.7"/>
<rect x="1424.8" y="2039" width="24.1" height="24.1" fill="#fff" stroke="#000" stroke-width="2.7"/>
<rect x="1498.3" y="2045.8" width="24.1" height="24.1" fill="#fff" stroke="#000" stroke-width="2.7"/>
<rect x="1571.8" y="2053.3" width="24.1" height="24.1" fill="#fff" stroke="#000" stroke-width="2.7"/>
<rect x="1645.3" y="2060.3" width="24.1" height="24.1" fill="#fff" stroke="#000" stroke-width="2.7"/>
<rect x="1718.9" y="2059.9" width="24.1" height="24.1" fill="#fff" stroke="#000" stroke-width="2.7"/>
<rect x="1792.4" y="2056.9" width="24.1" height="24.1" fill="#fff" stroke="#000" stroke-width="2.7"/>
<polyline points="480.9,2003.9 505.4,2015.6 529.9,2015.6 554.4,2013.8 579,2012.8 603.5,2012.1 628,2011.8 652.5,2012.1 677,2012.7 701.5,2013.7 726,2016 750.5,2019.6 775,2023 799.5,2026 824,2028.8 848.6,2030 873.1,2028.6 897.6,2025.3 922.1,2021.5 946.6,2017.2 971.1,2012.1 995.6,2007.8 1020.1,2004.3 1044.6,2001.2 1069.2,1999.6 1093.7,1999.1 1118.2,1998.8 1142.7,1998.7 1167.2,1998.8 1191.7,1999.1 1216.2,1999.6 1240.7,2001.2 1265.2,2004.3 1289.7,2007.8 1314.2,2012.1 1338.8,2017.2 1363.3,2021.5 1387.8,2025.3 1412.3,2028.6 1436.8,2030 1461.3,2028.8 1485.8,2026 1510.3,2023 1534.8,2019.6 1559.3,2016 1583.9,2013.7 1608.4,2012.7 1632.9,2012.1 1657.4,2011.8 1681.9,2012.1 1706.4,2012.8 1730.9,2013.8 1755.4,2015.6 1779.9,2015.6 1804.5,2003.9" fill="none" stroke="#000" stroke-width="2.6" stroke-linejoin="round"/>
<rect x="467.5" y="1990.5" width="26.8" height="26.8"/>
<rect x="541" y="2000.4" width="26.8" height="26.8"/>
<rect x="614.6" y="1998.4" width="26.8" height="26.8"/>
<rect x="688.1" y="2000.3" width="26.8" height="26.8"/>
<rect x="761.6" y="2009.6" width="26.8" height="26.8"/>
<rect x="835.2" y="2016.6" width="26.8" height="26.8"/>
<rect x="908.7" y="2008.1" width="26.8" height="26.8"/>
<rect x="982.2" y="1994.4" width="26.8" height="26.8"/>
<rect x="1055.8" y="1986.2" width="26.8" height="26.8"/>
<rect x="1129.3" y="1985.3" width="26.8" height="26.8"/>
<rect x="1202.8" y="1986.2" width="26.8" height="26.8"/>
<rect x="1276.3" y="1994.4" width="26.8" height="26.8"/>
<rect x="1349.9" y="2008.1" width="26.8" height="26.8"/>
<rect x="1423.4" y="2016.6" width="26.8" height="26.8"/>
<rect x="1496.9" y="2009.6" width="26.8" height="26.8"/>
<rect x="1570.5" y="2000.3" width="26.8" height="26.8"/>
<rect x="1644" y="1998.4" width="26.8" height="26.8"/>
<rect x="1717.5" y="2000.4" width="26.8" height="26.8"/>
<rect x="1791.1" y="1990.5" width="26.8" height="26.8"/>
<polyline points="480.9,2054.6 505.4,2052 529.9,2048 554.4,2045.5 579,2045.5 603.5,2045.5 628,2045.5 652.5,2045.5 677,2045.5 701.5,2045.5 726,2045.5 750.5,2045.5 775,2045.5 799.5,2045.4 824,2045.1 848.6,2045 873.1,2045.1 897.6,2045.4 922.1,2045.5 946.6,2045.5 971.1,2045.5 995.6,2045.5 1020.1,2045.5 1044.6,2045.5 1069.2,2045.5 1093.7,2045.2 1118.2,2044.8 1142.7,2044.5 1167.2,2044.8 1191.7,2045.2 1216.2,2045.5 1240.7,2045.5 1265.2,2045.5 1289.7,2045.5 1314.2,2045.5 1338.8,2045.5 1363.3,2045.5 1387.8,2045.4 1412.3,2045.1 1436.8,2045 1461.3,2045.1 1485.8,2045.4 1510.3,2045.5 1534.8,2045.5 1559.3,2045.5 1583.9,2045.5 1608.4,2045.5 1632.9,2045.5 1657.4,2045.5 1681.9,2045.5 1706.4,2045.5 1730.9,2045.5 1755.4,2048 1779.9,2051 1804.5,2052.5" fill="none" stroke="#000" stroke-width="2.6" stroke-linejoin="round"/>
<polygon points="480.9,2037 465.6,2063.4 496.2,2063.4" fill="#fff" stroke="#000" stroke-width="2.7" stroke-linejoin="miter"/>
<polygon points="554.4,2027.9 539.2,2054.3 569.7,2054.3" fill="#fff" stroke="#000" stroke-width="2.7" stroke-linejoin="miter"/>
<polygon points="628,2027.9 612.7,2054.3 643.2,2054.3" fill="#fff" stroke="#000" stroke-width="2.7" stroke-linejoin="miter"/>
<polygon points="701.5,2027.9 686.2,2054.3 716.8,2054.3" fill="#fff" stroke="#000" stroke-width="2.7" stroke-linejoin="miter"/>
<polygon points="775,2027.9 759.8,2054.3 790.3,2054.3" fill="#fff" stroke="#000" stroke-width="2.7" stroke-linejoin="miter"/>
<polygon points="848.6,2027.4 833.3,2053.8 863.8,2053.8" fill="#fff" stroke="#000" stroke-width="2.7" stroke-linejoin="miter"/>
<polygon points="922.1,2027.9 906.8,2054.3 937.4,2054.3" fill="#fff" stroke="#000" stroke-width="2.7" stroke-linejoin="miter"/>
<polygon points="995.6,2027.9 980.4,2054.3 1010.9,2054.3" fill="#fff" stroke="#000" stroke-width="2.7" stroke-linejoin="miter"/>
<polygon points="1069.2,2027.9 1053.9,2054.3 1084.4,2054.3" fill="#fff" stroke="#000" stroke-width="2.7" stroke-linejoin="miter"/>
<polygon points="1142.7,2026.9 1127.4,2053.3 1157.9,2053.3" fill="#fff" stroke="#000" stroke-width="2.7" stroke-linejoin="miter"/>
<polygon points="1216.2,2027.9 1200.9,2054.3 1231.5,2054.3" fill="#fff" stroke="#000" stroke-width="2.7" stroke-linejoin="miter"/>
<polygon points="1289.7,2027.9 1274.5,2054.3 1305,2054.3" fill="#fff" stroke="#000" stroke-width="2.7" stroke-linejoin="miter"/>
<polygon points="1363.3,2027.9 1348,2054.3 1378.5,2054.3" fill="#fff" stroke="#000" stroke-width="2.7" stroke-linejoin="miter"/>
<polygon points="1436.8,2027.4 1421.5,2053.8 1452.1,2053.8" fill="#fff" stroke="#000" stroke-width="2.7" stroke-linejoin="miter"/>
<polygon points="1510.3,2027.9 1495.1,2054.3 1525.6,2054.3" fill="#fff" stroke="#000" stroke-width="2.7" stroke-linejoin="miter"/>
<polygon points="1583.9,2027.9 1568.6,2054.3 1599.1,2054.3" fill="#fff" stroke="#000" stroke-width="2.7" stroke-linejoin="miter"/>
<polygon points="1657.4,2027.9 1642.1,2054.3 1672.7,2054.3" fill="#fff" stroke="#000" stroke-width="2.7" stroke-linejoin="miter"/>
<polygon points="1730.9,2027.9 1715.7,2054.3 1746.2,2054.3" fill="#fff" stroke="#000" stroke-width="2.7" stroke-linejoin="miter"/>
<polygon points="1804.5,2034.9 1789.2,2061.3 1819.7,2061.3" fill="#fff" stroke="#000" stroke-width="2.7" stroke-linejoin="miter"/>
<polyline points="480.9,2029 505.4,2028.5 529.9,2031.5 554.4,2036.8 579,2036.8 603.5,2036.8 628,2036.8 652.5,2036.8 677,2036.8 701.5,2036.8 726,2036.8 750.5,2036.8 775,2036.8 799.5,2036.8 824,2036.8 848.6,2036.8 873.1,2036.8 897.6,2036.8 922.1,2036.8 946.6,2036.8 971.1,2036.8 995.6,2036.8 1020.1,2036.7 1044.6,2036.6 1069.2,2036.5 1093.7,2036.5 1118.2,2036.5 1142.7,2036.5 1167.2,2036.5 1191.7,2036.5 1216.2,2036.5 1240.7,2036.6 1265.2,2036.7 1289.7,2036.8 1314.2,2036.8 1338.8,2036.8 1363.3,2036.8 1387.8,2036.8 1412.3,2036.8 1436.8,2036.8 1461.3,2036.8 1485.8,2036.8 1510.3,2036.8 1534.8,2036.8 1559.3,2036.8 1583.9,2036.8 1608.4,2036.8 1632.9,2036.8 1657.4,2036.8 1681.9,2036.8 1706.4,2036.8 1730.9,2036.8 1755.4,2031.5 1779.9,2028.5 1804.5,2031" fill="none" stroke="#000" stroke-width="2.6" stroke-linejoin="round"/>
<polygon points="480.9,2008.7 463.3,2039.2 498.5,2039.2"/>
<polygon points="554.4,2016.5 536.8,2047 572,2047"/>
<polygon points="628,2016.5 610.4,2047 645.6,2047"/>
<polygon points="701.5,2016.5 683.9,2047 719.1,2047"/>
<polygon points="775,2016.5 757.4,2047 792.6,2047"/>
<polygon points="848.6,2016.5 831,2047 866.2,2047"/>
<polygon points="922.1,2016.5 904.5,2047 939.7,2047"/>
<polygon points="995.6,2016.5 978,2047 1013.2,2047"/>
<polygon points="1069.2,2016.2 1051.6,2046.7 1086.8,2046.7"/>
<polygon points="1142.7,2016.2 1125.1,2046.7 1160.3,2046.7"/>
<polygon points="1216.2,2016.2 1198.6,2046.7 1233.8,2046.7"/>
<polygon points="1289.7,2016.5 1272.1,2047 1307.3,2047"/>
<polygon points="1363.3,2016.5 1345.7,2047 1380.9,2047"/>
<polygon points="1436.8,2016.5 1419.2,2047 1454.4,2047"/>
<polygon points="1510.3,2016.5 1492.7,2047 1527.9,2047"/>
<polygon points="1583.9,2016.5 1566.3,2047 1601.5,2047"/>
<polygon points="1657.4,2016.5 1639.8,2047 1675,2047"/>
<polygon points="1730.9,2016.5 1713.3,2047 1748.5,2047"/>
<polygon points="1804.5,2010.7 1786.9,2041.2 1822.1,2041.2"/>
<rect x="1676.6" y="1492.7" width="131.8" height="2.6"/>
<circle cx="1742.2" cy="1494" r="13.95" fill="#fff" stroke="#000" stroke-width="2.7"/>
<text x="1824.7" y="1513.6" font-size="57.6">SMx_Min</text>
<rect x="1676.6" y="1564.5" width="131.8" height="2.6"/>
<circle cx="1742.2" cy="1565.8" r="15.3"/>
<text x="1824.7" y="1585.4" font-size="57.6">SMx_Max</text>
<rect x="1676.6" y="1636.3" width="131.8" height="2.6"/>
<rect x="1730.1" y="1625.5" width="24.1" height="24.1" fill="#fff" stroke="#000" stroke-width="2.7"/>
<text x="1824.7" y="1657.2" font-size="57.6">SMy_Min</text>
<rect x="1676.6" y="1708.1" width="131.8" height="2.6"/>
<rect x="1728.8" y="1696" width="26.8" height="26.8"/>
<text x="1824.7" y="1729" font-size="57.6">SMy_Max</text>
<rect x="1676.6" y="1779.9" width="131.8" height="2.6"/>
<polygon points="1742.2,1764.8 1726.9,1791.2 1757.5,1791.2" fill="#fff" stroke="#000" stroke-width="2.7" stroke-linejoin="miter"/>
<text x="1824.7" y="1800.8" font-size="57.6">SMz_Min</text>
<rect x="1676.6" y="1851.7" width="131.8" height="2.6"/>
<polygon points="1742.2,1833.9 1724.6,1864.4 1759.8,1864.4"/>
<text x="1824.7" y="1872.6" font-size="57.6">SMz_Max</text>
<text x="1075.6" y="2754.5" font-size="85" letter-spacing="0" text-anchor="middle" font-family='&quot;Liberation Serif&quot;, serif'>(<tspan font-weight="bold">b</tspan>)</text></g>
</svg>
</body></html>
